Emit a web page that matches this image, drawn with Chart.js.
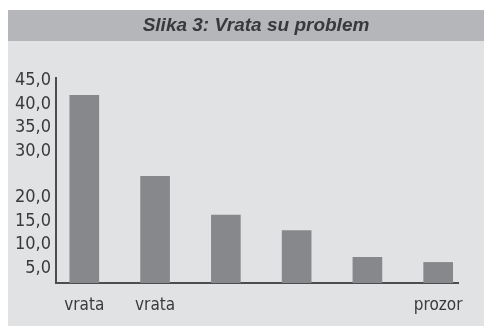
<!DOCTYPE html>
<html lang="hr">
<head>
    <meta charset="UTF-8">
    <title>Vrata su problem</title>
    <script src="https://cdn.jsdelivr.net/npm/chart.js"></script>
    <style>
        body { margin: 0; background: #fff; }
    </style>
</head>
<body>
    <canvas id="chart" width="484" height="326"></canvas>
    <script>
        const title = 'Slika 3: Vrata su problem';
        const categories = ['vrata', 'vrata', '', '', '', 'prozor'];
        const values = [41.9, 24.6, 16.3, 13.0, 7.3, 6.2];
        const yTicks = [5, 10, 15, 20, 30, 35, 40, 45];

        const labelFont = "'Liberation Sans Narrow', 'DejaVu Sans Condensed', sans-serif";

        // grey panel, darker title strip and the heading on it
        const panel = {
            id: 'panel',
            beforeDraw(chart) {
                const ctx = chart.ctx;
                ctx.save();
                ctx.fillStyle = '#e1e2e4';
                ctx.fillRect(8, 10, chart.width - 8, chart.height - 10);
                ctx.fillStyle = '#b5b6b9';
                ctx.fillRect(8, 10, chart.width - 8, 31);
                ctx.fillStyle = '#39393b';
                ctx.font = "italic bold 19px 'Liberation Sans', Arial, sans-serif";
                ctx.textAlign = 'center';
                ctx.textBaseline = 'middle';
                ctx.fillText(title, 256, 26);
                ctx.restore();
            }
        };

        new Chart(document.getElementById('chart'), {
            type: 'bar',
            data: {
                datasets: [{
                    data: values.map((v, i) => ({ x: i, y: v })),
                    backgroundColor: '#87888b',
                    barThickness: 29
                }]
            },
            options: {
                responsive: false,
                animation: false,
                layout: { padding: { left: 0, right: 26, top: 78, bottom: 0 } },
                plugins: {
                    legend: { display: false },
                    tooltip: { enabled: false }
                },
                scales: {
                    x: {
                        type: 'linear',
                        offset: false,
                        min: -0.4,
                        max: 5.28,
                        afterBuildTicks(scale) {
                            scale.ticks = categories.map((c, i) => ({ value: i }));
                        },
                        afterFit(scale) { scale.height = 43; },
                        grid: { display: false, drawTicks: false, offset: false },
                        border: { display: true, color: '#4d4d4f', width: 2 },
                        ticks: {
                            autoSkip: false,
                            maxRotation: 0,
                            padding: 12,
                            color: '#3a3a3a',
                            font: { family: labelFont, size: 17 },
                            callback: (v) => categories[v]
                        }
                    },
                    y: {
                        min: 1.8,
                        max: 45.6,
                        afterBuildTicks(scale) {
                            scale.ticks = yTicks.map(v => ({ value: v }));
                        },
                        afterFit(scale) { scale.width = 56; },
                        grid: { display: false, drawTicks: false },
                        border: { display: true, color: '#4d4d4f', width: 2 },
                        ticks: {
                            padding: 5,
                            color: '#3a3a3a',
                            font: { family: labelFont, size: 18 },
                            callback: (v) => v.toFixed(1).replace('.', ',')
                        }
                    }
                }
            },
            plugins: [panel]
        });
    </script>
</body>
</html>
